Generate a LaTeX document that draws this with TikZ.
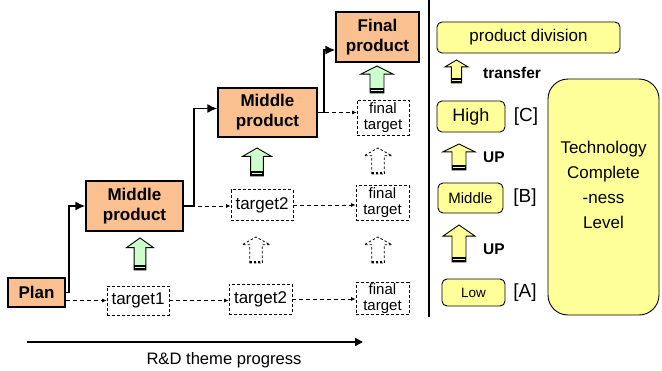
\documentclass[tikz,border=0pt]{standalone}
\usepackage{fontspec}
\setmainfont{Liberation Sans}
\usetikzlibrary{arrows.meta,calc}
\definecolor{prodorange}{RGB}{250,192,144}
\definecolor{arrgreen}{RGB}{204,255,204}
\definecolor{lvlyellow}{RGB}{255,255,153}
% solid block arrow: #1 fill, #2 centre x, #3 bottom y, #4 width, #5 height
\newcommand\blkarrow[5]{%
  \draw[fill=#1, line width=0.9pt, line join=miter]
    ({#2-0.22*#4},#3) -- ({#2-0.22*#4},{#3-0.7*#5}) -- ({#2-0.5*#4},{#3-0.7*#5})
    -- (#2,{#3-#5}) -- ({#2+0.5*#4},{#3-0.7*#5}) -- ({#2+0.22*#4},{#3-0.7*#5})
    -- ({#2+0.22*#4},#3) -- cycle;
  \fill ({#2-0.22*#4},{#3-5}) rectangle ({#2+0.22*#4},#3);
  \draw[#1, line width=0.8pt] ({#2-0.22*#4+0.9},{#3-2.6}) -- ({#2+0.22*#4-0.9},{#3-2.6});
}
% dashed hollow block arrow: #1 centre x, #2 bottom y, #3 width, #4 height
\newcommand\dsharrow[4]{%
  \draw[line width=0.8pt, dash pattern=on 2.5pt off 2pt]
    ({#1-0.22*#3},#2) -- ({#1-0.22*#3},{#2-0.7*#4}) -- ({#1-0.5*#3},{#2-0.7*#4})
    -- (#1,{#2-#4}) -- ({#1+0.5*#3},{#2-0.7*#4}) -- ({#1+0.22*#3},{#2-0.7*#4})
    -- ({#1+0.22*#3},#2) -- cycle;
  \draw[line width=2pt, dash pattern=on 2.5pt off 1.5pt] ({#1-0.22*#3},{#2-1.5}) -- ({#1+0.22*#3},{#2-1.5});
}
\begin{document}
\begin{tikzpicture}[x=1pt,y=-1pt,
  prod/.style={draw, line width=1.2pt, fill=prodorange, align=center, inner sep=0pt,
    font=\fontsize{17}{20}\selectfont\bfseries},
  tgt/.style={draw, line width=0.8pt, dash pattern=on 3pt off 2pt, inner sep=0pt, align=center,
    font=\fontsize{17}{20}\selectfont},
  ftgt/.style={tgt, font=\fontsize{15}{15.5}\selectfont},
  lvl/.style={draw, line width=0.9pt, fill=lvlyellow, rounded corners=5pt, inner sep=0pt},
  sconn/.style={line width=1.8pt, -{Latex[length=10pt,width=9pt]}},
  dconn/.style={line width=0.8pt, dash pattern=on 4pt off 3pt, -{Latex[length=4.5pt,width=4pt]}},
  lbl/.style={font=\fontsize{15.5}{18}\selectfont\bfseries, anchor=west, inner sep=0pt},
  brk/.style={font=\fontsize{19}{20}\selectfont, inner sep=0pt}
]
\useasboundingbox (0,0) rectangle (662,370);

% product boxes
\node[prod, minimum width=57pt, minimum height=29pt] (plan) at (36.5,292.5) {Plan};
\node[prod, minimum width=97pt, minimum height=50pt] (mid1) at (134.5,206) {Middle\\product};
\node[prod, minimum width=99pt, minimum height=49pt] (mid2) at (267.5,112.5) {Middle\\product};
\node[prod, minimum width=83pt, minimum height=50pt] (final) at (377.5,37) {Final\\product};

% target boxes
\node[tgt, minimum width=62pt, minimum height=29pt] (t1) at (138,300.5) {target1};
\node[tgt, minimum width=62pt, minimum height=31pt] (t2a) at (262,205) {target2};
\node[tgt, minimum width=63pt, minimum height=30pt] (t2b) at (260.5,299) {target2};
\node[ftgt, minimum width=52pt, minimum height=35pt] (fta) at (383,117.5) {final\\target};
\node[ftgt, minimum width=53pt, minimum height=35pt] (ftb) at (382.5,202.5) {final\\target};
\node[ftgt, minimum width=53pt, minimum height=32pt] (ftc) at (382.5,298.5) {final\\target};

% solid connectors
\draw[sconn] (plan.east) -- ++(3,0) |- (mid1.west);
\draw[sconn] (mid1.east) -- ++(10,0) |- ([yshift=4pt]mid2.west);
\draw[sconn] (mid2.east) -- ++(6,0) |- ([yshift=-13pt]final.west);

% dashed connectors
\draw[dconn] (plan.east |- t1.west) -- (t1.west);
\draw[dconn] (t1.east) -- (t1.east -| t2b.west);
\draw[dconn] (t2b.east) -- (t2b.east -| ftc.west);
\draw[dconn] (mid1.east) -- (mid1.east -| t2a.west);
\draw[dconn] (t2a.east) -- (t2a.east -| ftb.west);
\draw[dconn] (mid2.east) -- (mid2.east -| fta.west);

% block arrows
\blkarrow{arrgreen}{140}{270}{27}{32}
\blkarrow{arrgreen}{257}{176}{29}{28}
\blkarrow{arrgreen}{377}{93}{32}{27}
\dsharrow{378}{174}{28}{26}
\dsharrow{256}{263}{28}{26}
\dsharrow{378}{263}{28}{26}

% divider
\draw[line width=1.2pt] (429,0) -- (429,317);

% right side
\node[lvl, minimum width=183pt, minimum height=31pt, font=\fontsize{17}{20}\selectfont] (pd) at (528.5,37.5) {product division};
\node[lvl, minimum width=68pt, minimum height=31pt, font=\fontsize{18}{20}\selectfont] (high) at (471,116.5) {High};
\node[lvl, minimum width=65pt, minimum height=30pt, font=\fontsize{15}{18}\selectfont] (midl) at (470.5,198) {Middle};
\node[lvl, minimum width=63pt, minimum height=27pt, font=\fontsize{13.5}{16}\selectfont] (low) at (473.5,292.5) {Low};
\node[lvl, rounded corners=20pt, minimum width=111pt, minimum height=236pt] (tcl) at (603.5,197) {};
\node[align=center, font=\fontsize{17}{25}\selectfont] (tcltext) at (603.5,185) {Technology\\Complete\\-ness\\Level};

\node[brk] (bc) at (526,117) {[C]};
\node[brk] (bb) at (525,198) {[B]};
\node[brk] (ba) at (525,293) {[A]};

\blkarrow{lvlyellow}{456.5}{83}{23}{23}
\blkarrow{lvlyellow}{459}{170}{32}{26}
\blkarrow{lvlyellow}{459}{262}{32}{37}
\node[lbl] (ltransfer) at (483,73) {transfer};
\node[lbl] (lup1) at (483,157) {UP};
\node[lbl] (lup2) at (483,249) {UP};

% progress arrow
\coordinate (pa) at (27,342);
\coordinate (pb) at (363,342);
\draw[line width=1.5pt, -{Triangle[length=8pt,width=8pt]}] (pa) -- (pb);
\node[font=\fontsize{16.6}{20}\selectfont] (prog) at (224,360) {R\&D theme progress};
\end{tikzpicture}
\end{document}
